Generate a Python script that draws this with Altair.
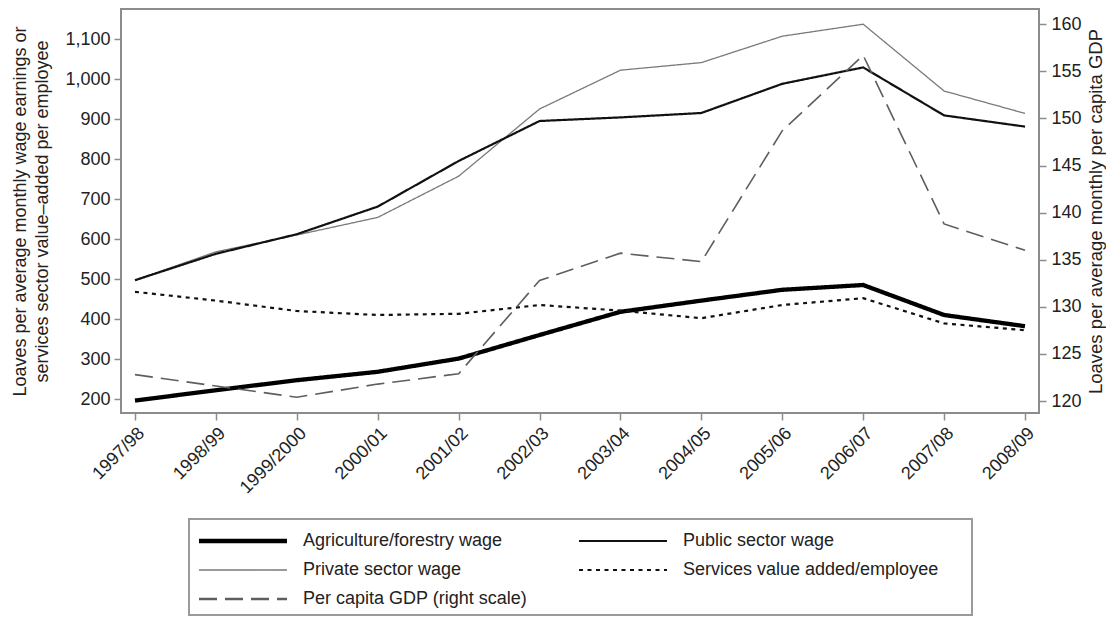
import altair as alt
import pandas as pd

years = ["1997/98", "1998/99", "1999/2000", "2000/01", "2001/02", "2002/03",
         "2003/04", "2004/05", "2005/06", "2006/07", "2007/08", "2008/09"]

agri = [196, 222, 247, 268, 301, 360, 418, 446, 473, 485, 410, 382]
public = [497, 563, 612, 681, 795, 895, 904, 915, 988, 1029, 909, 881]
private = [497, 568, 610, 654, 757, 925, 1022, 1041, 1107, 1137, 970, 914]
services = [468, 446, 420, 410, 413, 435, 421, 402, 435, 452, 389, 372]
gdp = [122.8, 121.6, 120.4, 121.8, 122.9, 132.8, 135.7, 134.8, 148.7, 156.7, 138.8, 136.0]

# legend is filled column by column: left column first, then right column
series_names = ["Agriculture/forestry wage", "Private sector wage", "Per capita GDP (right scale)",
                "Public sector wage", "Services value added/employee"]
series_colors = ["#000000", "#7a7a7a", "#5e5e5e", "#111111", "#111111"]
series_dash = [[1, 0], [1, 0], [18, 8], [1, 0], [4, 4.5]]
line_widths = [4.3, 1.3, 1.6, 2.2, 2.2]
legend_widths = [4.5, 1.3, 2.6, 2.2, 2.2]
series_values = [agri, private, gdp, public, services]
right_scale_series = "Per capita GDP (right scale)"

left_ticks = [200, 300, 400, 500, 600, 700, 800, 900, 1000, 1100]
right_ticks = [120, 125, 130, 135, 140, 145, 150, 155, 160]

left_title = ["Loaves per average monthly wage earnings or",
              "services sector value\u2013added per employee"]
right_title = "Loaves per average monthly per capita GDP"

FONT = "Liberation Sans"

left_rows, right_rows = [], []
for name, vals, w in zip(series_names, series_values, line_widths):
    target = right_rows if name == right_scale_series else left_rows
    for yr, v in zip(years, vals):
        target.append({"year": yr, "series": name, "value": v, "w": w})
left_df = pd.DataFrame(left_rows)
right_df = pd.DataFrame(right_rows)

# legend symbol stroke width expression from legend_widths
expr = ""
for name, w in zip(series_names[:-1], legend_widths[:-1]):
    expr += f"datum.value === '{name}' ? {w} : "
expr += str(legend_widths[-1])

legend = alt.Legend(
    title=None, orient="none", legendX=78, legendY=522, columns=2,
    symbolType="stroke", symbolSize=7744, symbolOffset=35,
    symbolStrokeWidth=alt.ExprRef(expr=expr),
    labelFont=FONT, labelFontSize=18, labelColor="#222222", labelLimit=600,
    labelOffset=51, clipHeight=20, rowPadding=9, columnPadding=51, padding=0,
)

x_enc = alt.X("year:N", sort=years, scale=alt.Scale(type="point", padding=0.173),
              axis=alt.Axis(title=None, labelAngle=315, labelPadding=4))
color_enc = alt.Color("series:N", scale=alt.Scale(domain=series_names, range=series_colors),
                      legend=legend)
dash_enc = alt.StrokeDash("series:N", scale=alt.Scale(domain=series_names, range=series_dash),
                          legend=legend)
width_enc = alt.StrokeWidth("w:Q", scale=None)

left_layer = alt.Chart(left_df).mark_line().encode(
    x=x_enc,
    y=alt.Y("value:Q",
            scale=alt.Scale(domain=[165, 1175], nice=False, zero=False),
            axis=alt.Axis(orient="left", values=left_ticks, format=",.0f", title=left_title,
                          titleX=-101, titleY=202, titleAngle=270, titleAlign="center",
                          titleBaseline="middle", titleLineHeight=22, labelPadding=4)),
    color=color_enc, strokeDash=dash_enc, strokeWidth=width_enc,
    detail="series:N",
)

right_layer = alt.Chart(right_df).mark_line().encode(
    x=x_enc,
    y=alt.Y("value:Q",
            scale=alt.Scale(domain=[118.73, 161.62], nice=False, zero=False),
            axis=alt.Axis(orient="right", values=right_ticks, format=".0f", title=right_title,
                          titleX=56, titleY=202, titleAngle=270, titleAlign="center",
                          titleBaseline="middle", titleFontSize=18.5, labelPadding=5)),
    color=color_enc, strokeDash=dash_enc, strokeWidth=width_enc,
)

box = alt.Chart(pd.DataFrame({"box": [1]})).mark_rect(
    fill="white", fillOpacity=0, stroke="#9a9a9a", strokeWidth=2
).encode(x=alt.value(68), x2=alt.value(851), y=alt.value(510), y2=alt.value(606))

chart = alt.layer(left_layer, right_layer, box).resolve_scale(y="independent").properties(
    width=918, height=404,
    padding={"left": 113, "top": 1, "right": 67, "bottom": 204},
    autosize=alt.AutoSizeParams(type="none"),
).configure_view(
    stroke="#8c8c8c", strokeWidth=2
).configure_axis(
    domain=False, grid=False, tickColor="#8c8c8c", tickSize=7, tickWidth=1.5,
    labelFont=FONT, labelFontSize=18, labelColor="#222222",
    titleFont=FONT, titleFontSize=18, titleColor="#222222", titleFontWeight="normal",
)

chart.save("out.html", embed_options={"renderer": "svg", "actions": False})
